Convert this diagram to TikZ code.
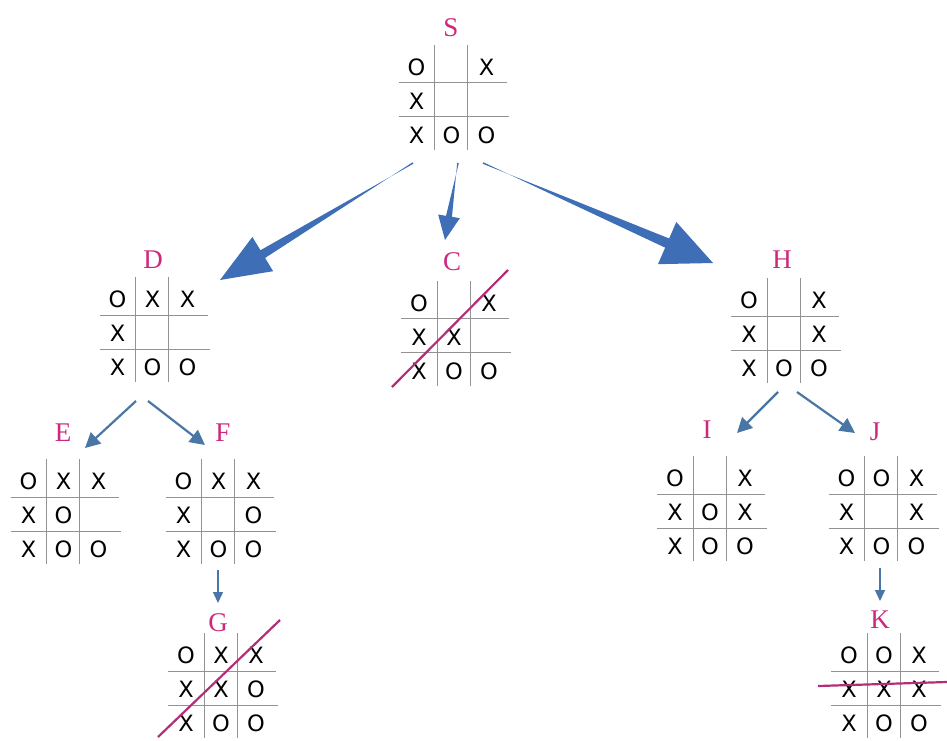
\documentclass[tikz,border=0pt]{standalone}
\usepackage{fontspec}
\setmainfont{Liberation Serif}
\newfontfamily\symfont{DejaVu Sans}
\usetikzlibrary{arrows.meta,calc}

\definecolor{tagpink}{RGB}{205,40,125}
\definecolor{moveblue}{RGB}{62,110,182}
\definecolor{stepblue}{RGB}{74,118,165}
\definecolor{strikepink}{RGB}{180,45,120}

% one board: centre x, centre y, cells col/row/symbol
\newcommand{\tttboard}[3]{%
  \begin{scope}[shift={(#1,#2)}]
    \draw [gridline] (-17,-55) -- (-17,50) (16,-55) -- (16,50)
      (-53,-17) -- (55,-17) (-53,17) -- (57,17);
    \foreach \c/\r/\v in {#3} {
      \node [sym] at (\c*35, \r*34+1.5) {\v};
    }
  \end{scope}}

% tapered arrow: from, to, head length, head half width, shaft half width
\newcommand{\fatarrow}[5]{%
  \coordinate (base) at ($(#2)!#3!(#1)$);
  \fill [moveblue] ($(#1)!0.8pt!90:(base)$) -- ($(base)!#5!-90:(#2)$)
    -- ($(base)!#4!-90:(#2)$) -- (#2) -- ($(base)!#4!90:(#2)$)
    -- ($(base)!#5!90:(#2)$) -- ($(#1)!0.8pt!-90:(base)$) -- cycle;}

\begin{document}
\begin{tikzpicture}[x=1pt, y=-1pt,
    gridline/.style={gray!85, line width=0.9pt},
    sym/.style={font=\symfont\fontsize{22.5}{22.5}\selectfont, inner sep=0pt},
    tag/.style={font=\fontsize{27}{27}\selectfont, text=tagpink, inner sep=0pt},
    stepline/.style={stepblue, line width=2.2pt, -{Triangle[length=15pt, width=15pt]}},
    downline/.style={stepblue, line width=1.4pt, -{Triangle[length=11pt, width=10pt]}},
    strike/.style={strikepink, line width=2.2pt}]
    \useasboundingbox (0,0) rectangle (947,740);

    % S
    \node [tag] (S) at (451,28) {S};
    \tttboard{451.5}{99.5}{-1/-1/O, 1/-1/X, -1/0/X, -1/1/X, 0/1/O, 1/1/O}

    % D
    \node [tag] (D) at (153,260) {D};
    \tttboard{152.5}{332}{-1/-1/O, 0/-1/X, 1/-1/X, -1/0/X, -1/1/X, 0/1/O, 1/1/O}

    % C
    \node [tag] (C) at (452,262) {C};
    \tttboard{454}{335.5}{-1/-1/O, 1/-1/X, -1/0/X, 0/0/X, -1/1/X, 0/1/O, 1/1/O}
    \draw [strike] (392,387) -- (508,270);

    % H
    \node [tag] (H) at (782,260) {H};
    \tttboard{784}{333}{-1/-1/O, 1/-1/X, -1/0/X, 1/0/X, -1/1/X, 0/1/O, 1/1/O}

    % E
    \node [tag] (E) at (63,433) {E};
    \tttboard{63.5}{514}{-1/-1/O, 0/-1/X, 1/-1/X, -1/0/X, 0/0/O, -1/1/X, 0/1/O, 1/1/O}

    % F
    \node [tag] (F) at (223,433) {F};
    \tttboard{218.5}{514}{-1/-1/O, 0/-1/X, 1/-1/X, -1/0/X, 1/0/O, -1/1/X, 0/1/O, 1/1/O}

    % G
    \node [tag] (G) at (218,623) {G};
    \tttboard{221}{688}{-1/-1/O, 0/-1/X, 1/-1/X, -1/0/X, 0/0/X, 1/0/O, -1/1/X, 0/1/O, 1/1/O}
    \draw [strike] (158,737) -- (280,620);

    % I
    \node [tag] (I) at (707,430) {I};
    \tttboard{710}{511}{-1/-1/O, 1/-1/X, -1/0/X, 0/0/O, 1/0/X, -1/1/X, 0/1/O, 1/1/O}

    % J
    \node [tag] (J) at (875,432) {J};
    \tttboard{881.5}{511}{-1/-1/O, 0/-1/O, 1/-1/X, -1/0/X, 1/0/X, -1/1/X, 0/1/O, 1/1/O}

    % K
    \node [tag] (K) at (880,620) {K};
    \tttboard{884}{688}{-1/-1/O, 0/-1/O, 1/-1/X, -1/0/X, 0/0/X, 1/0/X, -1/1/X, 0/1/O, 1/1/O}
    \draw [strike] (818,686) -- (947,682);

    % moves from S
    \coordinate (S-d) at (413,163);
    \coordinate (S-c) at (458,163);
    \coordinate (S-h) at (483,163);
    \coordinate (D-in) at (220,280);
    \coordinate (C-in) at (445,240);
    \coordinate (H-in) at (713,263);
    \fatarrow{S-d}{D-in}{50pt}{20pt}{4.5pt}
    \fatarrow{S-c}{C-in}{24pt}{11pt}{3pt}
    \fatarrow{S-h}{H-in}{50pt}{23pt}{5pt}

    % moves below
    \coordinate (D-e) at (136,401);
    \coordinate (D-f) at (148,401);
    \coordinate (E-in) at (85,448);
    \coordinate (F-in) at (205,445);
    \coordinate (H-i) at (778,392);
    \coordinate (H-j) at (797,392);
    \coordinate (I-in) at (737,433);
    \coordinate (J-in) at (855,433);
    \coordinate (F-g) at (218,570);
    \coordinate (G-in) at (218,603);
    \coordinate (J-k) at (880,568);
    \coordinate (K-in) at (880,601);
    \draw [stepline] (D-e) -- (E-in);
    \draw [stepline] (D-f) -- (F-in);
    \draw [stepline] (H-i) -- (I-in);
    \draw [stepline] (H-j) -- (J-in);
    \draw [downline] (F-g) -- (G-in);
    \draw [downline] (J-k) -- (K-in);
\end{tikzpicture}
\end{document}
